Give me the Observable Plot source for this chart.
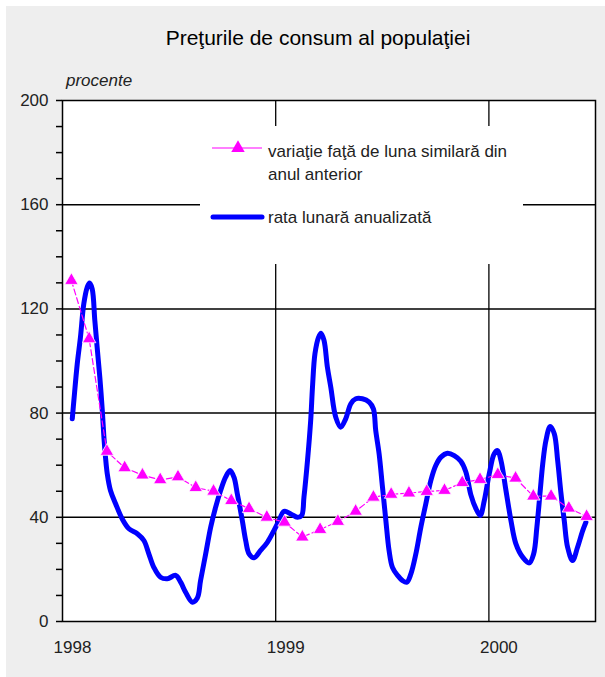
<!DOCTYPE html>
<html>
<head>
<meta charset="utf-8">
<script src="https://cdn.jsdelivr.net/npm/d3@7"></script>
<script src="https://cdn.jsdelivr.net/npm/@observablehq/plot@0.6"></script>
<style>
  html, body { margin: 0; padding: 0; background: #ffffff; }
  #wrap { position: relative; width: 605px; height: 677px; overflow: hidden; font-family: "Liberation Sans", Arial, sans-serif; color: #222; }
  #bg { position: absolute; left: 6px; top: 6px; width: 599px; height: 671px; background: #eeeeee; }
  #chart { position: absolute; left: 0; top: 0; }
  #title { position: absolute; left: 0; top: 27px; width: 636px; text-align: center; font-size: 21px; line-height: 21px; color: #000; }
  #unit { position: absolute; left: 66px; top: 71px; font-size: 17px; line-height: 20px; font-style: italic; color: #222; }
  #legend { position: absolute; left: 200px; top: 126px; width: 323px; height: 138px; background: #ffffff; }
  #legend svg { position: absolute; left: 0; top: 0; }
</style>
</head>
<body>
<div id="wrap">
  <div id="bg"></div>
  <div id="chart"></div>
  <div id="title">Preţurile de consum al populaţiei</div>
  <div id="unit">procente</div>
  <div id="legend"></div>
</div>
<script>
// ---- Data (months since January 1998) ----
const yearLabels = ["1998", "1999", "2000"];
const yearTicks = [0, 12, 24];

const seriesNames = ["variaţie faţă de luna similară din anul anterior", "rata lunară anualizată"];

// Annual change vs. same month of previous year (monthly, Jan 1998 – Jun 2000)
const varAnualaLuna = [0.5, 1.5, 2.5, 3.5, 4.5, 5.5, 6.5, 7.5, 8.5, 9.5, 10.5, 11.5,
  12.5, 13.5, 14.5, 15.5, 16.5, 17.5, 18.5, 19.5, 20.5, 21.5, 22.5, 23.5,
  24.5, 25.5, 26.5, 27.5, 28.5, 29.5];
const varAnualaValori = [130.9, 108.5, 65.3, 59.0, 56.2, 54.4, 55.5, 51.4, 50.0, 46.4, 43.3, 40.0,
  38.1, 32.4, 35.3, 38.4, 42.3, 47.7, 48.8, 49.3, 49.9, 50.3, 53.3, 54.5,
  56.4, 55.0, 48.1, 48.1, 43.5, 40.3];

// Annualized monthly rate (smoothed curve)
const rataLuna = [0.55, 0.64, 0.83, 1.01, 1.20, 1.39, 1.52, 1.67, 1.82, 1.95, 2.10, 2.24, 2.33, 2.42, 2.52, 2.70, 2.99,
  3.36, 3.74, 4.21, 4.58, 4.86, 5.14, 5.52, 5.90, 6.37, 6.65, 6.93, 7.31, 7.59, 7.77, 8.06, 8.34, 8.62, 8.90,
  9.18, 9.43, 9.65, 9.84, 10.12, 10.31, 10.50, 10.78, 11.15, 11.53, 11.90, 12.19, 12.47, 12.85, 13.22, 13.46,
  13.59, 13.79, 13.97, 14.07, 14.21, 14.41, 14.55, 14.72, 14.91, 15.10, 15.38, 15.66, 15.94, 16.23, 16.51,
  16.88, 17.26, 17.50, 17.63, 17.82, 18.01, 18.20, 18.38, 18.57, 18.86, 19.14, 19.38, 19.61, 19.89, 20.17,
  20.45, 20.73, 21.01, 21.30, 21.67, 22.05, 22.42, 22.70, 22.99, 23.27, 23.51, 23.74, 24.02, 24.30, 24.49,
  24.68, 24.96, 25.24, 25.52, 25.90, 26.27, 26.52, 26.70, 26.89, 27.03, 27.21, 27.45, 27.68, 27.87, 28.06,
  28.24, 28.43, 28.71, 28.99, 29.28, 29.46];
const rataValori = [77.8, 84.8, 98.9, 109.1, 122.0, 128.3, 129.9, 127.7, 115.5, 105.3, 93.8, 81.0, 70.8, 63.1, 56.7, 50.3, 45.2,
  39.4, 35.6, 33.7, 31.1, 26.0, 20.8, 17.0, 16.4, 17.7, 15.1, 11.2, 7.4, 9.0, 15.7, 26.0, 36.2, 43.9, 50.3,
  55.4, 58.0, 55.4, 49.0, 38.8, 31.1, 26.0, 24.5, 27.3, 30.4, 34.9, 38.8, 42.3, 41.3, 40.0, 40.7,
  47.7, 61.8, 77.2, 89.9, 102.8, 109.1, 110.7, 107.9, 97.6, 90.0, 78.4, 74.6, 77.8, 83.6, 85.5,
  85.5, 84.2, 81.6, 73.3, 64.4, 51.6, 38.8, 27.3, 20.8, 17.7, 15.7, 15.1, 18.3, 26.0, 36.2,
  45.2, 54.1, 59.9, 63.1, 64.6, 63.7, 61.5, 57.5, 48.5, 43.3, 40.7, 46.4, 56.7, 64.4, 65.6,
  61.8, 50.3, 38.8, 29.8, 24.7, 22.5, 26.0, 36.2, 50.3, 60.5, 69.5, 74.9, 72.1, 61.8, 49.0,
  38.8, 28.5, 23.4, 28.5, 34.9, 38.1];

const yLabelTicks = [0, 40, 80, 120, 160, 200];
const yMinorTicks = [0, 10, 20, 30, 40, 50, 60, 70, 80, 90, 100, 110, 120, 130, 140, 150, 160, 170, 180, 190, 200];
const gridY = [40, 80, 120, 160];
const gridX = [12, 24];

// ---- Build tables ----
const varAnuala = varAnualaLuna.map((t, i) => ({t, v: varAnualaValori[i]}));
const rata = rataLuna.map((t, i) => ({t, v: rataValori[i]}));

const MAGENTA = "#ff00ff";
const BLUE = "#0000ff";
const TRI_R = 5;

const chart = Plot.plot({
  width: 605,
  height: 677,
  marginLeft: 62,
  marginRight: 10,
  marginTop: 100,
  marginBottom: 56,
  style: {background: "transparent", fontFamily: "'Liberation Sans', Arial, sans-serif", fontSize: "17px", color: "#222", overflow: "visible"},
  x: {domain: [0, 30]},
  y: {domain: [0, 200]},
  marks: [
    Plot.frame({fill: "white", stroke: "none"}),
    Plot.ruleY(gridY, {stroke: "#000", strokeWidth: 1.5}),
    Plot.ruleX(gridX, {stroke: "#000", strokeWidth: 1.3}),
    Plot.axisY({ticks: yMinorTicks, tickSize: 6, tickPadding: 8, strokeWidth: 1.5, stroke: "#000", tickFormat: d => yLabelTicks.includes(d) ? String(d) : "", label: null}),
    Plot.axisX({ticks: yearTicks, tickSize: 0, tickPadding: 19, dx: 10, tickFormat: d => yearLabels[yearTicks.indexOf(d)], label: null}),
    Plot.line(rata, {x: "t", y: "v", stroke: BLUE, strokeWidth: 5, curve: "catmull-rom", strokeLinejoin: "round", strokeLinecap: "round"}),
    Plot.line(varAnuala, {x: "t", y: "v", stroke: MAGENTA, strokeWidth: 1.2, strokeDasharray: "6,3"}),
    Plot.dot(varAnuala, {x: "t", y: "v", symbol: "triangle", r: TRI_R, fill: MAGENTA, stroke: "white", strokeWidth: 0.8}),
    Plot.frame({stroke: "#000", strokeWidth: 1.5})
  ]
});
document.getElementById("chart").appendChild(chart);

// ---- Legend (overlay box inside the plot) ----
const lg = d3.select("#legend").append("svg").attr("width", 323).attr("height", 138)
  .style("font-family", "'Liberation Sans', Arial, sans-serif").style("font-size", "17px");
lg.append("line").attr("x1", 12).attr("x2", 62).attr("y1", 22).attr("y2", 22).attr("stroke", MAGENTA).attr("stroke-width", 1.2);
lg.append("path").attr("d", d3.symbol(d3.symbolTriangle, Math.PI * TRI_R * TRI_R)())
  .attr("transform", "translate(38,22)").attr("fill", MAGENTA);
const t1 = lg.append("text").attr("x", 68).attr("y", 31).attr("fill", "#222");
t1.append("tspan").attr("x", 68).attr("dy", 0).text("variaţie faţă de luna similară din");
t1.append("tspan").attr("x", 68).attr("dy", 23).text("anul anterior");
lg.append("line").attr("x1", 13).attr("x2", 62).attr("y1", 91).attr("y2", 91).attr("stroke", BLUE).attr("stroke-width", 5).attr("stroke-linecap", "round");
lg.append("text").attr("x", 68).attr("y", 97).attr("fill", "#222").text(seriesNames[1]);
</script>
</body>
</html>
